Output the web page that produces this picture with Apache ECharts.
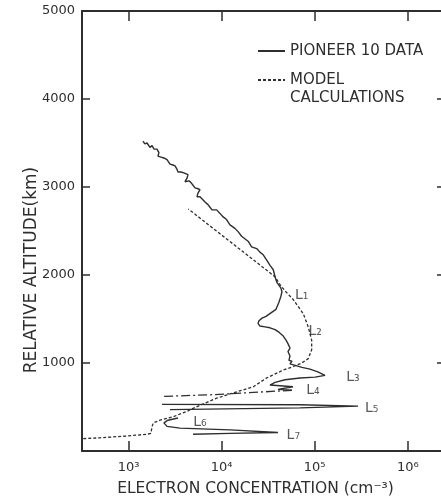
<!DOCTYPE html>
<html>
<head>
<meta charset="utf-8">
<script src="https://cdn.jsdelivr.net/npm/echarts@6/dist/echarts.min.js"></script>
<style>
  html, body { margin: 0; padding: 0; background: #fff; }
  #main { width: 441px; height: 501px; }
</style>
</head>
<body>
<div id="main"></div>
<script>
// [electron concentration (cm^-3), relative altitude (km)]
var pioneerMain = [
  [1430, 3520], [1500, 3490], [1580, 3500], [1700, 3450], [1790, 3470], [1880, 3430],
  [2020, 3430], [2120, 3390], [2070, 3350], [2230, 3340], [2400, 3330], [2590, 3310],
  [2720, 3300], [2790, 3260], [3000, 3250], [3160, 3240], [3320, 3200], [3400, 3170],
  [3660, 3170], [3940, 3160], [4350, 3140], [4250, 3100], [4040, 3060], [4460, 3070],
  [4690, 3050], [4930, 3020], [5180, 2990], [5570, 2980], [5860, 2970], [5570, 2930],
  [5440, 2890], [5860, 2890], [6150, 2880], [6630, 2830], [7140, 2800], [7500, 2770],
  [7880, 2740], [8850, 2740], [9600, 2700], [10400, 2660], [11300, 2630], [12300, 2570],
  [13900, 2530], [15100, 2490], [16400, 2440], [17100, 2420], [19400, 2380], [21000, 2320],
  [23800, 2300], [25800, 2260], [28000, 2230], [30500, 2170], [33100, 2110], [35900, 2060],
  [37500, 1980], [39100, 1920], [43400, 1850], [44500, 1810], [43400, 1760], [41300, 1690],
  [38400, 1610], [33900, 1570], [30000, 1530], [27200, 1510], [25200, 1480], [24600, 1450],
  [25800, 1420], [29200, 1410], [33100, 1400], [37500, 1380], [41300, 1350], [45600, 1310],
  [49200, 1260], [51600, 1220], [54300, 1170], [51600, 1130], [54300, 1080], [52900, 1030],
  [57000, 1020], [54300, 990], [63000, 970], [73000, 950], [89000, 930], [108000, 900],
  [129000, 860], [101000, 840], [69500, 830], [48000, 810], [37500, 780], [33100, 750],
  [58500, 730], [40300, 700], [57000, 690]
]
var pioneerL5 = [[2290, 530], [69500, 525], [292000, 510], [69500, 490], [2790, 470]]
var pioneerL7 = [
  [3400, 375], [2650, 350], [2400, 320], [2590, 280], [3570, 260],
  [12300, 240], [40300, 210], [12300, 200], [4930, 190]
]
// gap in the data near L4 (dash-dot)
var pioneerGap = [[57000, 690], [8080, 640], [2290, 620]]

var modelCalc = [
  [326, 140], [490, 150], [950, 170], [1570, 190], [1740, 200], [1790, 280],
  [1850, 320], [2180, 350], [3030, 390], [4220, 450], [5860, 520], [8850, 600],
  [13350, 660], [21900, 730], [30500, 830], [46000, 920], [58900, 960], [72500, 1000],
  [85300, 1050], [92800, 1150], [92800, 1260], [85300, 1410], [75400, 1560], [58900, 1720],
  [48000, 1820], [42400, 1890], [37500, 1980], [12300, 2380], [4390, 2750]
]

var layerNames = ['L₁', 'L₂', 'L₃', 'L₄', 'L₅', 'L₆', 'L₇']
var layerConc = [72500, 101000, 258000, 95900, 410000, 5860, 58900]
var layerAlt = [1770, 1360, 840, 690, 485, 330, 180]

var xTickExps = [3, 4, 5, 6]
var yTicks = [1000, 2000, 3000, 4000, 5000]

var ink = '#2e2e2e'
var sup = { 3: '³', 4: '⁴', 5: '⁵', 6: '⁶' }

var solidData = pioneerMain.concat([[null, null]], pioneerL5, [[null, null]], pioneerL7)
var layerData = layerNames.map(function(n, i) { return [layerConc[i], layerAlt[i], n] })

var myChart = echarts.init(document.getElementById('main'))

var xBase = {
  type: 'log',
  logBase: 10,
  min: Math.pow(10, 2.5),
  max: Math.pow(10, 6.4),
  splitLine: { show: false },
  axisLine: { show: true, onZero: false, lineStyle: { color: ink, width: 2 } },
  axisTick: { inside: true, length: 10, lineStyle: { color: ink, width: 1.5 } }
}
var yBase = {
  type: 'value',
  min: 0,
  max: 5000,
  interval: 1000,
  splitLine: { show: false },
  axisLine: { show: true, onZero: false, lineStyle: { color: ink, width: 2 } },
  axisTick: { inside: true, length: 8, lineStyle: { color: ink, width: 1.5 } }
}

var legendText = { color: ink, fontSize: 15, lineHeight: 18, fontFamily: 'DejaVu Sans' }

var option = {
  backgroundColor: '#fff',
  animation: false,
  textStyle: { fontFamily: 'DejaVu Sans' },
  grid: { left: 82, top: 11, width: 363, height: 440, outerBoundsMode: 'none', containLabel: false },
  legend: [
    {
      left: 252, top: 37, orient: 'vertical',
      itemWidth: 27, itemHeight: 18,
      itemGap: 0,
      itemStyle: { opacity: 0 },
      data: ['PIONEER 10 DATA'],
      textStyle: legendText
    },
    {
      left: 252, top: 48, orient: 'vertical',
      itemWidth: 27, itemHeight: 18,
      itemStyle: { opacity: 0 },
      data: ['MODEL CALCULATIONS'],
      formatter: function() { return '\u00a0\nMODEL\nCALCULATIONS' },
      textStyle: legendText
    }
  ],
  xAxis: [
    Object.assign({}, xBase, {
      position: 'bottom',
      name: 'ELECTRON CONCENTRATION (cm⁻³)',
      nameLocation: 'middle',
      nameGap: 30,
      nameMoveOverlap: false,
      nameTextStyle: { color: ink, fontSize: 15.5, padding: [0, 16, 0, 0] },
      axisLabel: {
        color: ink, fontSize: 13, margin: 10,
        formatter: function(v) {
          var e = Math.round(Math.log10(v))
          if (Math.abs(Math.log10(v) - e) > 1e-6 || xTickExps.indexOf(e) < 0) return ''
          return '10' + sup[e]
        }
      }
    }),
    Object.assign({}, xBase, { position: 'top', axisLabel: { show: false } })
  ],
  yAxis: [
    Object.assign({}, yBase, {
      position: 'left',
      name: 'RELATIVE ALTITUDE(km)',
      nameLocation: 'middle',
      nameGap: 42,
      nameRotate: 90,
      nameMoveOverlap: false,
      nameTextStyle: { color: ink, fontSize: 17, padding: [0, 78, 0, 0] },
      axisLabel: {
        color: ink, fontSize: 13, margin: 7,
        formatter: function(v) { return yTicks.indexOf(v) >= 0 ? String(v) : '' }
      }
    }),
    Object.assign({}, yBase, { position: 'right', axisLabel: { show: false } })
  ],
  series: [
    {
      name: 'PIONEER 10 DATA',
      type: 'line',
      data: solidData,
      showSymbol: false,
      symbol: 'none',
      connectNulls: false,
      lineStyle: { color: ink, width: 1.4 },
      itemStyle: { color: ink }
    },
    {
      name: 'gap',
      type: 'line',
      data: pioneerGap,
      symbol: 'none',
      lineStyle: { color: ink, width: 1.3, type: [9, 3, 2, 3] }
    },
    {
      name: 'MODEL CALCULATIONS',
      type: 'line',
      data: modelCalc,
      symbol: 'none',
      lineStyle: { color: ink, width: 1.3, type: [3, 2] },
      itemStyle: { color: ink }
    },
    {
      name: 'layers',
      type: 'scatter',
      data: layerData,
      symbolSize: 0,
      label: {
        show: true,
        position: 'inside',
        color: ink,
        fontSize: 14,
        formatter: function(p) { return p.data[2] }
      }
    }
  ]
}

myChart.setOption(option)
</script>
</body>
</html>
